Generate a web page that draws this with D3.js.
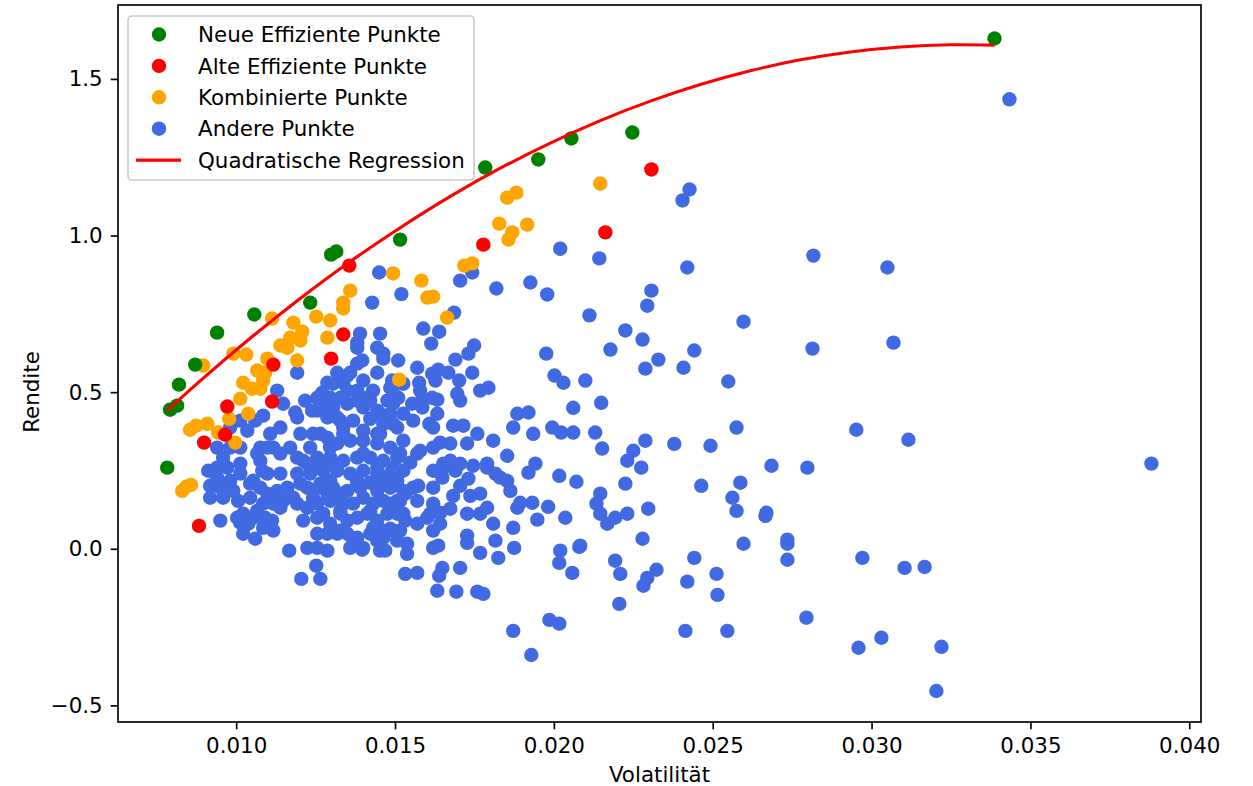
<!DOCTYPE html>
<html>
<head>
<meta charset="utf-8">
<script src="https://cdn.jsdelivr.net/npm/d3@7"></script>
<style>
  html, body { margin: 0; padding: 0; background: #ffffff; }
  svg { display: block; font-family: "DejaVu Sans", sans-serif; }
</style>
</head>
<body>
<svg id="chart" width="1253" height="786"></svg>
<script>
// Each point: [volatility, return]
const newEfficient = [
  [0.00783,0.259],[0.00792,0.444],[0.00814,0.457],[0.00820,0.524],[0.00871,0.588],
  [0.00940,0.690],[0.01057,0.748],[0.01233,0.786],[0.01299,0.939],[0.01315,0.949],
  [0.01516,0.987],[0.01784,1.217],[0.01951,1.243],[0.02055,1.310],[0.02247,1.329],
  [0.03387,1.629]
];

const oldEfficient = [
  [0.00883,0.073],[0.00899,0.339],[0.00965,0.364],[0.00972,0.454],[0.01113,0.470],
  [0.01117,0.588],[0.01299,0.607],[0.01337,0.684],[0.01356,0.904],[0.01778,0.971],
  [0.02162,1.010],[0.02307,1.211]
];

const combined = [
  [0.00830,0.185],[0.00843,0.198],[0.00858,0.204],[0.00855,0.380],[0.00874,0.393],
  [0.00909,0.399],[0.00896,0.585],[0.00943,0.371],[0.00978,0.415],[0.00997,0.339],
  [0.01013,0.479],[0.01038,0.431],[0.01022,0.530],[0.01050,0.511],[0.01076,0.511],
  [0.01066,0.569],[0.01085,0.537],[0.01091,0.562],[0.01098,0.607],[0.00991,0.623],
  [0.01032,0.620],[0.01113,0.735],[0.01139,0.649],[0.01170,0.674],[0.01161,0.642],
  [0.01202,0.665],[0.01192,0.601],[0.01180,0.722],[0.01208,0.693],[0.01252,0.741],
  [0.01296,0.729],[0.01287,0.674],[0.01337,0.767],[0.01337,0.786],[0.01359,0.824],
  [0.01494,0.879],[0.01583,0.856],[0.01602,0.802],[0.01620,0.805],[0.01664,0.738],
  [0.01513,0.540],[0.01718,0.904],[0.01743,0.911],[0.01828,1.038],[0.01857,0.987],
  [0.01869,1.010],[0.01916,1.035],[0.01853,1.121],[0.01882,1.137],[0.02146,1.166]
];

const others = [
  // high-volatility tail
  [0.03434,1.435],[0.03881,0.272],[0.02817,0.936],[0.03050,0.898],[0.03069,0.658],
  [0.02597,0.725],[0.02814,0.639],[0.03116,0.348],[0.02952,0.380],[0.02798,0.259],
  [0.02685,0.265],[0.02575,0.387],[0.02549,0.534],[0.02493,0.329],
  [0.02464,0.201],[0.02587,0.211],[0.02562,0.163],[0.02575,0.121],[0.02669,0.115],
  [0.02666,0.105],[0.02735,0.029],[0.02735,0.016],[0.02597,0.016],[0.02735,-0.035],
  [0.02442,-0.029],[0.02971,-0.029],[0.03104,-0.061],[0.03167,-0.058],[0.02512,-0.080],
  [0.02420,-0.105],[0.02515,-0.147],[0.02795,-0.220],[0.02414,-0.262],[0.02546,-0.262],
  [0.02959,-0.316],[0.03031,-0.284],[0.03220,-0.313],[0.03204,-0.454],[0.02427,1.147],
  [0.02405,1.112],[0.02420,0.898],[0.02442,0.633],[0.02408,0.578],
  // mid-volatility band
  [0.02143,0.927],[0.02020,0.958],[0.02307,0.824],[0.02294,0.776],[0.02112,0.745],
  [0.02225,0.697],[0.02279,0.668],[0.02178,0.636],[0.02329,0.604],[0.02288,0.575],
  [0.01976,0.623],[0.02002,0.553],[0.02030,0.530],[0.02099,0.537],[0.02061,0.450],
  [0.02149,0.466],[0.02130,0.371],[0.02152,0.320],[0.02288,0.345],[0.02379,0.335],
  [0.02250,0.313],[0.02231,0.281],[0.02275,0.259],[0.02225,0.208],[0.02297,0.128],
  [0.02279,0.032],[0.02146,0.176],[0.02134,0.144],[0.02146,0.112],[0.02168,0.080],
  [0.02193,0.099],[0.02231,0.112],[0.02080,0.006],[0.02020,-0.006],[0.02017,-0.045],
  [0.02058,-0.077],[0.02193,-0.038],[0.02209,-0.080],[0.02282,-0.118],[0.02323,-0.067],
  [0.02294,-0.093],[0.02206,-0.176],[0.01986,-0.227],[0.02017,-0.239],[0.01872,-0.262],
  [0.01929,-0.339],[0.02017,0.233],[0.02071,0.214],[0.02036,0.099],[0.01982,0.134],
  [0.01948,0.093],[0.01935,0.367],[0.01995,0.387],[0.02023,0.371],[0.02061,0.371],
  [0.02083,0.010],[0.01979,0.812],[0.01926,0.850],
  [0.01520,0.813],[0.01705,0.856],[0.01819,0.831],[0.01589,0.703],[0.01639,0.693],
  [0.01614,0.655],[0.01686,0.754],[0.01749,0.649],[0.01731,0.623],[0.01690,0.604],
  [0.01510,0.601],[0.01453,0.687],[0.01463,0.623],[0.01636,0.572],[0.01668,0.562],
  [0.01702,0.537],[0.01743,0.562],[0.01576,0.530],[0.01627,0.537],[0.01586,0.479],
  [0.01554,0.463],[0.01510,0.482],[0.01476,0.473],[0.01453,0.431],[0.01633,0.476],
  [0.01696,0.495],[0.01705,0.473],[0.01768,0.505],[0.01794,0.514],[0.01633,0.431],
  [0.01608,0.399],[0.01683,0.393],[0.01715,0.393],[0.01759,0.367],[0.01809,0.345],
  [0.01853,0.297],[0.01885,0.431],[0.01920,0.435],[0.01872,0.387],[0.01920,0.243],
  [0.01942,0.272],[0.01674,0.336],[0.01642,0.339],[0.01573,0.201],[0.01620,0.195],
  [0.01652,0.259],[0.01690,0.249],[0.01731,0.224],[0.01768,0.176],[0.01790,0.259],
  [0.01816,0.240],[0.01831,0.227],[0.01853,0.217],[0.01863,0.185],[0.01894,0.147],
  [0.01932,0.147],[0.01872,0.067],[0.01809,0.080],[0.01768,0.112],[0.01727,0.112],
  [0.01642,0.115],[0.01611,0.112],[0.01532,0.090],[0.01485,0.064],[0.01469,-0.006],
  [0.01538,-0.016],[0.01636,0.010],[0.01727,0.019],[0.01768,-0.013],[0.01816,0.026],
  [0.01825,-0.029],[0.01875,0.003],[0.01705,-0.061],[0.01649,-0.061],[0.01570,-0.077],
  [0.01532,-0.080],[0.01639,-0.086],[0.01579,0.505],[0.01727,0.336],[0.01885,0.131],
  [0.01790,0.131],[0.01737,0.169],[0.01674,0.128],[0.01642,0.080],[0.01601,0.099],
  [0.01683,0.169],[0.01705,0.201],[0.01790,0.272],[0.01746,0.265],[0.01705,0.272],
  [0.01674,0.281],[0.01652,0.272],[0.01620,0.249],[0.01649,0.227],[0.01579,0.313],
  [0.01548,0.275],[0.01532,0.176],[0.01526,0.112],[0.01727,0.042],[0.01633,-0.134],
  [0.01693,-0.137],[0.01759,-0.137],[0.01778,-0.144],[0.01743,0.882],[0.01450,0.882],
  [0.01428,0.786],
  // dense low-volatility core
  [0.01192,0.562],[0.01390,0.687],[0.01381,0.642],[0.01444,0.642],[0.01463,0.607],
  [0.01397,0.601],[0.01510,0.537],[0.01491,0.537],[0.01444,0.562],[0.01359,0.562],
  [0.01318,0.562],[0.01287,0.530],[0.01337,0.530],[0.01400,0.537],[0.01381,0.505],
  [0.01431,0.505],[0.01296,0.482],[0.01255,0.482],[0.01217,0.473],[0.01192,0.419],
  [0.01239,0.441],[0.01274,0.451],[0.01305,0.451],[0.01350,0.463],[0.01400,0.451],
  [0.01444,0.441],[0.01485,0.431],[0.01526,0.431],[0.01287,0.419],[0.01328,0.409],
  [0.01368,0.409],[0.01422,0.415],[0.01463,0.399],[0.01507,0.387],[0.01129,0.505],
  [0.01148,0.463],[0.01139,0.387],[0.01085,0.425],[0.01060,0.409],[0.01013,0.409],
  [0.00981,0.387],[0.01035,0.377],[0.01107,0.367],[0.01076,0.323],[0.01117,0.323],
  [0.01170,0.323],[0.01202,0.367],[0.01242,0.367],[0.01287,0.355],[0.01318,0.336],
  [0.01359,0.345],[0.01400,0.345],[0.01444,0.336],[0.01485,0.323],[0.01526,0.345],
  [0.00940,0.323],[0.00959,0.291],[0.00940,0.259],[0.00912,0.249],[0.00918,0.201],
  [0.00950,0.195],[0.00981,0.217],[0.01013,0.240],[0.01013,0.272],[0.00972,0.259],
  [0.01076,0.281],[0.01098,0.240],[0.01054,0.217],[0.01076,0.195],[0.01098,0.176],
  [0.01129,0.185],[0.01161,0.195],[0.01180,0.163],[0.01148,0.153],[0.01117,0.144],
  [0.01085,0.144],[0.01006,0.153],[0.00959,0.163],[0.01022,0.112],[0.01054,0.099],
  [0.01091,0.099],[0.01113,0.090],[0.01038,0.080],[0.01022,0.048],[0.01060,0.032],
  [0.01211,0.281],[0.01255,0.291],[0.01296,0.291],[0.01337,0.281],[0.01381,0.291],
  [0.01422,0.291],[0.01463,0.281],[0.01507,0.291],[0.01192,0.240],[0.01233,0.240],
  [0.01274,0.249],[0.01318,0.249],[0.01359,0.240],[0.01400,0.249],[0.01444,0.240],
  [0.01485,0.240],[0.01526,0.249],[0.01224,0.195],[0.01202,0.208],[0.01265,0.195],
  [0.01305,0.195],[0.01350,0.185],[0.01390,0.195],[0.01444,0.185],[0.01485,0.195],
  [0.01526,0.185],[0.01224,0.131],[0.01255,0.144],[0.01296,0.153],[0.01337,0.144],
  [0.01368,0.144],[0.01431,0.144],[0.01485,0.144],[0.01211,0.090],[0.01255,0.099],
  [0.01296,0.080],[0.01350,0.090],[0.01381,0.099],[0.01444,0.090],[0.01507,0.112],
  [0.01255,0.048],[0.01318,0.048],[0.01368,0.026],[0.01422,0.048],[0.01463,0.058],
  [0.01494,0.058],[0.01224,0.003],[0.01255,0.003],[0.01359,0.003],[0.01453,-0.006],
  [0.01186,0.435],[0.01271,0.498],[0.01350,0.553],[0.01381,0.591],[0.01381,0.658],
  [0.01413,0.482],[0.01318,0.419],[0.01337,0.387],[0.01265,0.367],[0.01296,0.329],
  [0.01453,0.367],[0.01494,0.399],[0.01557,0.409],[0.01586,0.451],[0.01617,0.482],
  [0.01617,0.559],[0.01570,0.578],[0.01494,0.498],[0.01620,0.387],[0.01620,0.323],
  [0.01570,0.304],[0.01516,0.304],[0.01400,0.304],[0.01224,0.272],[0.01192,0.291],
  [0.01139,0.304],[0.01098,0.323],[0.01066,0.304],[0.01082,0.249],[0.01139,0.240],
  [0.01265,0.208],[0.01287,0.163],[0.01328,0.176],[0.01381,0.208],[0.01431,0.208],
  [0.01557,0.195],[0.01620,0.144],[0.01570,0.153],[0.01516,0.153],[0.01422,0.121],
  [0.01328,0.121],[0.01192,0.144],[0.01139,0.131],[0.01066,0.121],[0.01013,0.083],
  [0.00950,0.090],[0.00918,0.163],[0.00981,0.323],[0.01013,0.323],[0.00940,0.227],
  [0.00991,0.185],[0.01044,0.208],[0.01044,0.163],[0.01287,-0.006],[0.01328,0.058],
  [0.01381,0.035],[0.01463,0.035],[0.01538,0.016],[0.01516,0.058],[0.01570,0.080],
  [0.01620,0.058],[0.01620,0.003],[0.01431,0.067],[0.01117,0.058],[0.01085,0.067],
  [0.01003,0.099],[0.01252,-0.054],[0.01205,-0.096],[0.01265,-0.096],[0.01167,-0.006],
  [0.01397,-0.003],
  [0.01305,0.527],[0.01350,0.505],[0.01485,0.514],[0.01526,0.527],[0.01255,0.441],
  [0.01328,0.482],[0.01381,0.473],[0.01422,0.473],[0.01494,0.463],[0.01444,0.367],
  [0.01400,0.377],[0.01337,0.367],[0.01296,0.323],[0.01233,0.323],[0.01255,0.272],
  [0.01296,0.272],[0.01444,0.259],[0.01494,0.259],[0.01507,0.217],[0.01463,0.211],
  [0.01422,0.211],[0.01381,0.217],[0.01296,0.217],[0.01242,0.163],[0.01328,0.163],
  [0.01400,0.163],[0.01463,0.153],[0.01507,0.153],[0.01274,0.112],[0.01328,0.112],
  [0.01413,0.112],[0.01476,0.112],[0.01287,0.048],[0.01350,0.048],[0.01444,0.026],
  [0.01507,0.026],[0.01400,0.003]
];

// Fitted quadratic regression, sampled along the volatility range
const regressionCurve = [
  [0.007827,0.441],[0.008866,0.536],[0.010441,0.672],[0.012015,0.799],[0.013590,0.917],
  [0.015164,1.025],[0.016739,1.125],[0.018313,1.215],[0.019888,1.295],[0.021462,1.367],
  [0.023037,1.429],[0.024611,1.482],[0.026186,1.526],[0.027760,1.561],[0.029335,1.586],
  [0.030909,1.602],[0.032484,1.609],[0.033869,1.608]
];

const xTicks = [0.010, 0.015, 0.020, 0.025, 0.030, 0.035, 0.040];
const yTicks = [-0.5, 0.0, 0.5, 1.0, 1.5];

const legendLabels = ["Neue Effiziente Punkte", "Alte Effiziente Punkte", "Kombinierte Punkte", "Andere Punkte", "Quadratische Regression"];
const seriesColors = ["green", "red", "orange", "royalblue", "red"];

// ---- layout ----
const plot = { left: 118, right: 1201, top: 5, bottom: 722 };
const fontSize = 21.4;
const tickLen = 7.3;
const markerR = 7.2;

const svg = d3.select("#chart");

const x = d3.scaleLinear().domain([0.00628, 0.04037]).range([plot.left, plot.right]);
const y = d3.scaleLinear().domain([-0.553, 1.736]).range([plot.bottom, plot.top]);

// axes
const fmtX = d3.format(".3f");
const fmtY = v => d3.format(".1f")(v).replace("-", "\u2212");

const xAxis = svg.append("g")
  .attr("transform", `translate(0,${plot.bottom})`)
  .call(d3.axisBottom(x).tickValues(xTicks).tickFormat(fmtX).tickSize(tickLen).tickPadding(8.4));
const yAxis = svg.append("g")
  .attr("transform", `translate(${plot.left},0)`)
  .call(d3.axisLeft(y).tickValues(yTicks).tickFormat(fmtY).tickSize(tickLen).tickPadding(8.0));

[xAxis, yAxis].forEach(g => {
  g.select(".domain").remove();
  g.selectAll(".tick line").attr("stroke", "#000").attr("stroke-width", 1.67);
  g.selectAll(".tick text")
    .attr("fill", "#000")
    .style("font-family", "'DejaVu Sans', sans-serif")
    .style("font-size", fontSize + "px");
});

// point layers
const layer = svg.append("g");
function drawPoints(data, color) {
  layer.append("g").selectAll("circle")
    .data(data)
    .join("circle")
    .attr("cx", d => x(d[0]))
    .attr("cy", d => y(d[1]))
    .attr("r", markerR)
    .attr("fill", color);
}
drawPoints(others, seriesColors[3]);
drawPoints(combined, seriesColors[2]);
drawPoints(oldEfficient, seriesColors[1]);
drawPoints(newEfficient, seriesColors[0]);

// regression line
const line = d3.line().x(d => x(d[0])).y(d => y(d[1])).curve(d3.curveNatural);
svg.append("path")
  .datum(regressionCurve)
  .attr("d", line)
  .attr("fill", "none")
  .attr("stroke", seriesColors[4])
  .attr("stroke-width", 3.1);

// frame
svg.append("rect")
  .attr("x", plot.left).attr("y", plot.top)
  .attr("width", plot.right - plot.left).attr("height", plot.bottom - plot.top)
  .attr("fill", "none").attr("stroke", "#000").attr("stroke-width", 1.67);

// axis titles
svg.append("text")
  .attr("x", (plot.left + plot.right) / 2).attr("y", 782)
  .attr("text-anchor", "middle")
  .style("font-size", fontSize + "px")
  .text("Volatilität");
svg.append("text")
  .attr("transform", "translate(39,392) rotate(-90)")
  .attr("text-anchor", "middle")
  .style("font-size", fontSize + "px")
  .text("Rendite");

// legend
const legend = svg.append("g");
legend.append("rect")
  .attr("x", 128).attr("y", 16).attr("width", 346).attr("height", 164).attr("rx", 4)
  .attr("fill", "#fff").attr("fill-opacity", 0.8)
  .attr("stroke", "#cccccc").attr("stroke-width", 1.67);
const rowY = i => 34.5 + i * 31.4;
legendLabels.forEach((label, i) => {
  const cy = rowY(i);
  if (i < 4) {
    legend.append("circle").attr("cx", 159).attr("cy", cy).attr("r", markerR).attr("fill", seriesColors[i]);
  } else {
    legend.append("line").attr("x1", 136).attr("x2", 181).attr("y1", cy).attr("y2", cy)
      .attr("stroke", seriesColors[i]).attr("stroke-width", 3.1);
  }
  legend.append("text")
    .attr("x", 198).attr("y", cy).attr("dy", "0.36em")
    .style("font-size", fontSize + "px")
    .text(label);
});
</script>
</body>
</html>
